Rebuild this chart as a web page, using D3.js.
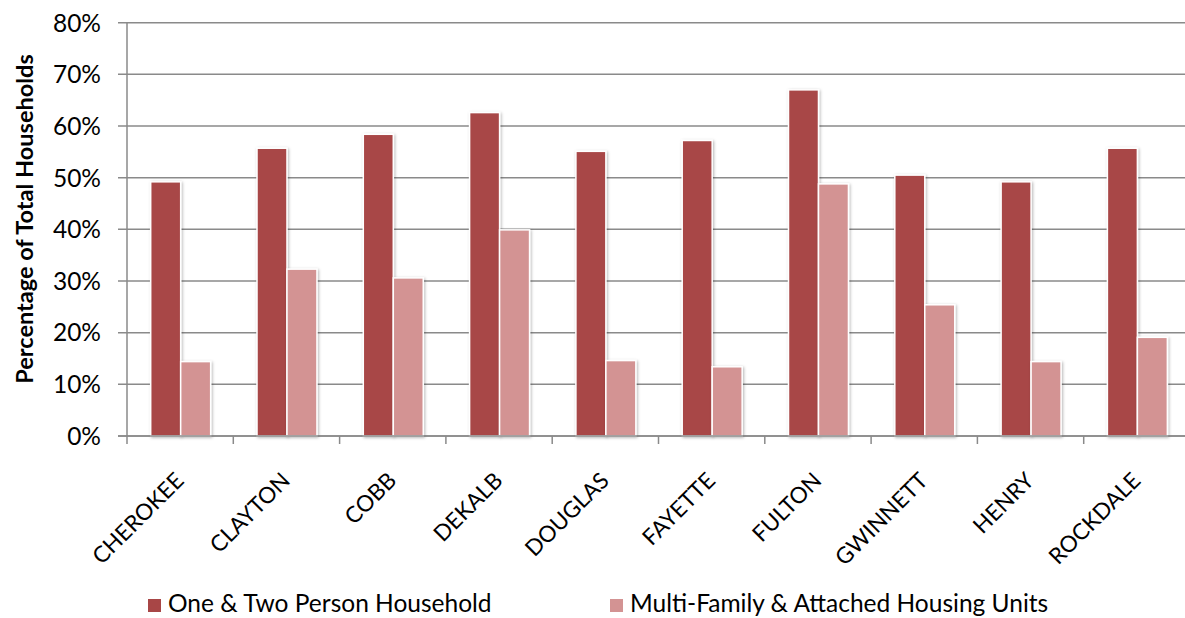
<!DOCTYPE html>
<html>
<head>
<meta charset="utf-8">
<script src="https://cdn.jsdelivr.net/npm/d3@7"></script>
<style>
  html, body { margin: 0; padding: 0; background: #fff; }
  svg { display: block; }
  text { font-family: Lato, "Open Sans", sans-serif; fill: #000; }
</style>
</head>
<body>
<svg id="chart" width="1185" height="618"></svg>
<script>
const categories = ["CHEROKEE", "CLAYTON", "COBB", "DEKALB", "DOUGLAS", "FAYETTE", "FULTON", "GWINNETT", "HENRY", "ROCKDALE"];
const seriesNames = ["One & Two Person Household", "Multi-Family & Attached Housing Units"];
const oneTwoPerson = [49.2, 55.7, 58.4, 62.6, 55.1, 57.2, 67.0, 50.5, 49.2, 55.7];
const multiFamily = [14.4, 32.3, 30.6, 39.9, 14.6, 13.4, 48.8, 25.4, 14.4, 19.1];
const yTicks = [0, 10, 20, 30, 40, 50, 60, 70, 80];
const seriesColors = ["#A84646", "#D39393"];
const yTitle = "Percentage of Total Households";

(function () {
const svg = d3.select("#chart");
const pLeft = 127, pRight = 1190, pTop = 22.7, pBottom = 436;

const defs = svg.append("defs");
const f = defs.append("filter").attr("id", "shadow").attr("x", "-30%").attr("y", "-10%").attr("width", "160%").attr("height", "120%");
f.append("feDropShadow").attr("dx", 1).attr("dy", 1).attr("stdDeviation", 1.6).attr("flood-color", "#000").attr("flood-opacity", 0.3);

const x0 = d3.scaleBand().domain(categories).range([pLeft, pRight]).padding(0);
const x1 = d3.scaleBand().domain(seriesNames).range([x0.bandwidth() * 0.223, x0.bandwidth() * 0.787]).padding(0);
const y = d3.scaleLinear().domain([0, 80]).range([pBottom, pTop]);

// gridlines
svg.append("g").selectAll("line").data(yTicks).join("line")
  .attr("x1", pLeft - 9).attr("x2", pRight)
  .attr("y1", d => y(d)).attr("y2", d => y(d))
  .attr("stroke", "#8a8a8a").attr("stroke-width", 1.5);

// y tick labels
svg.append("g").selectAll("text").data(yTicks).join("text")
  .attr("x", 101).attr("y", d => y(d)).attr("dy", "0.36em")
  .attr("text-anchor", "end").attr("font-size", 24.5)
  .text(d => d + "%");

// y axis line
svg.append("line").attr("x1", pLeft).attr("x2", pLeft).attr("y1", pTop).attr("y2", pBottom)
  .attr("stroke", "#8a8a8a").attr("stroke-width", 1.5);

// x ticks at boundaries
const boundaries = categories.map(c => x0(c)).concat([pRight]);
svg.append("g").selectAll("line").data(boundaries).join("line")
  .attr("x1", d => d).attr("x2", d => d).attr("y1", pBottom).attr("y2", pBottom + 8)
  .attr("stroke", "#8a8a8a").attr("stroke-width", 1.5);

// bars
const data = categories.map((c, i) => ({ c, vals: [oneTwoPerson[i], multiFamily[i]] }));
const groups = svg.append("g").selectAll("g").data(data).join("g")
  .attr("transform", d => `translate(${x0(d.c)},0)`);
groups.selectAll("rect").data(d => d.vals.map((v, j) => ({ v, s: seriesNames[j], j })))
  .join("rect")
  .attr("x", d => x1(d.s)).attr("width", x1.bandwidth())
  .attr("y", d => y(d.v)).attr("height", d => y(0) - y(d.v))
  .attr("fill", d => seriesColors[d.j])
  .attr("stroke", "#fff").attr("stroke-width", 1.5)
  .attr("filter", "url(#shadow)");

// x axis line
svg.append("line").attr("x1", pLeft - 9).attr("x2", pRight).attr("y1", pBottom).attr("y2", pBottom)
  .attr("stroke", "#8a8a8a").attr("stroke-width", 1.5);

// x labels
svg.append("g").selectAll("text").data(categories).join("text")
  .attr("text-anchor", "end").attr("font-size", 22.5)
  .attr("transform", c => `translate(${x0(c) + x0.bandwidth() / 2 + 5},${pBottom + 46}) rotate(-45)`)
  .text(c => c);

// y title
svg.append("text").attr("font-size", 23.5).attr("font-weight", "bold")
  .attr("text-anchor", "middle")
  .attr("transform", `translate(33,219) rotate(-90)`)
  .text(yTitle);

// legend
const legendX = [148, 610];
const lg = svg.append("g").selectAll("g").data(seriesNames).join("g")
  .attr("transform", (d, i) => `translate(${legendX[i]},599)`);
lg.append("rect").attr("width", 13).attr("height", 13).attr("fill", (d, i) => seriesColors[i]);
lg.append("text").attr("x", 20).attr("y", 13).attr("font-size", 24.5).text(d => d);
})();
</script>
</body>
</html>
